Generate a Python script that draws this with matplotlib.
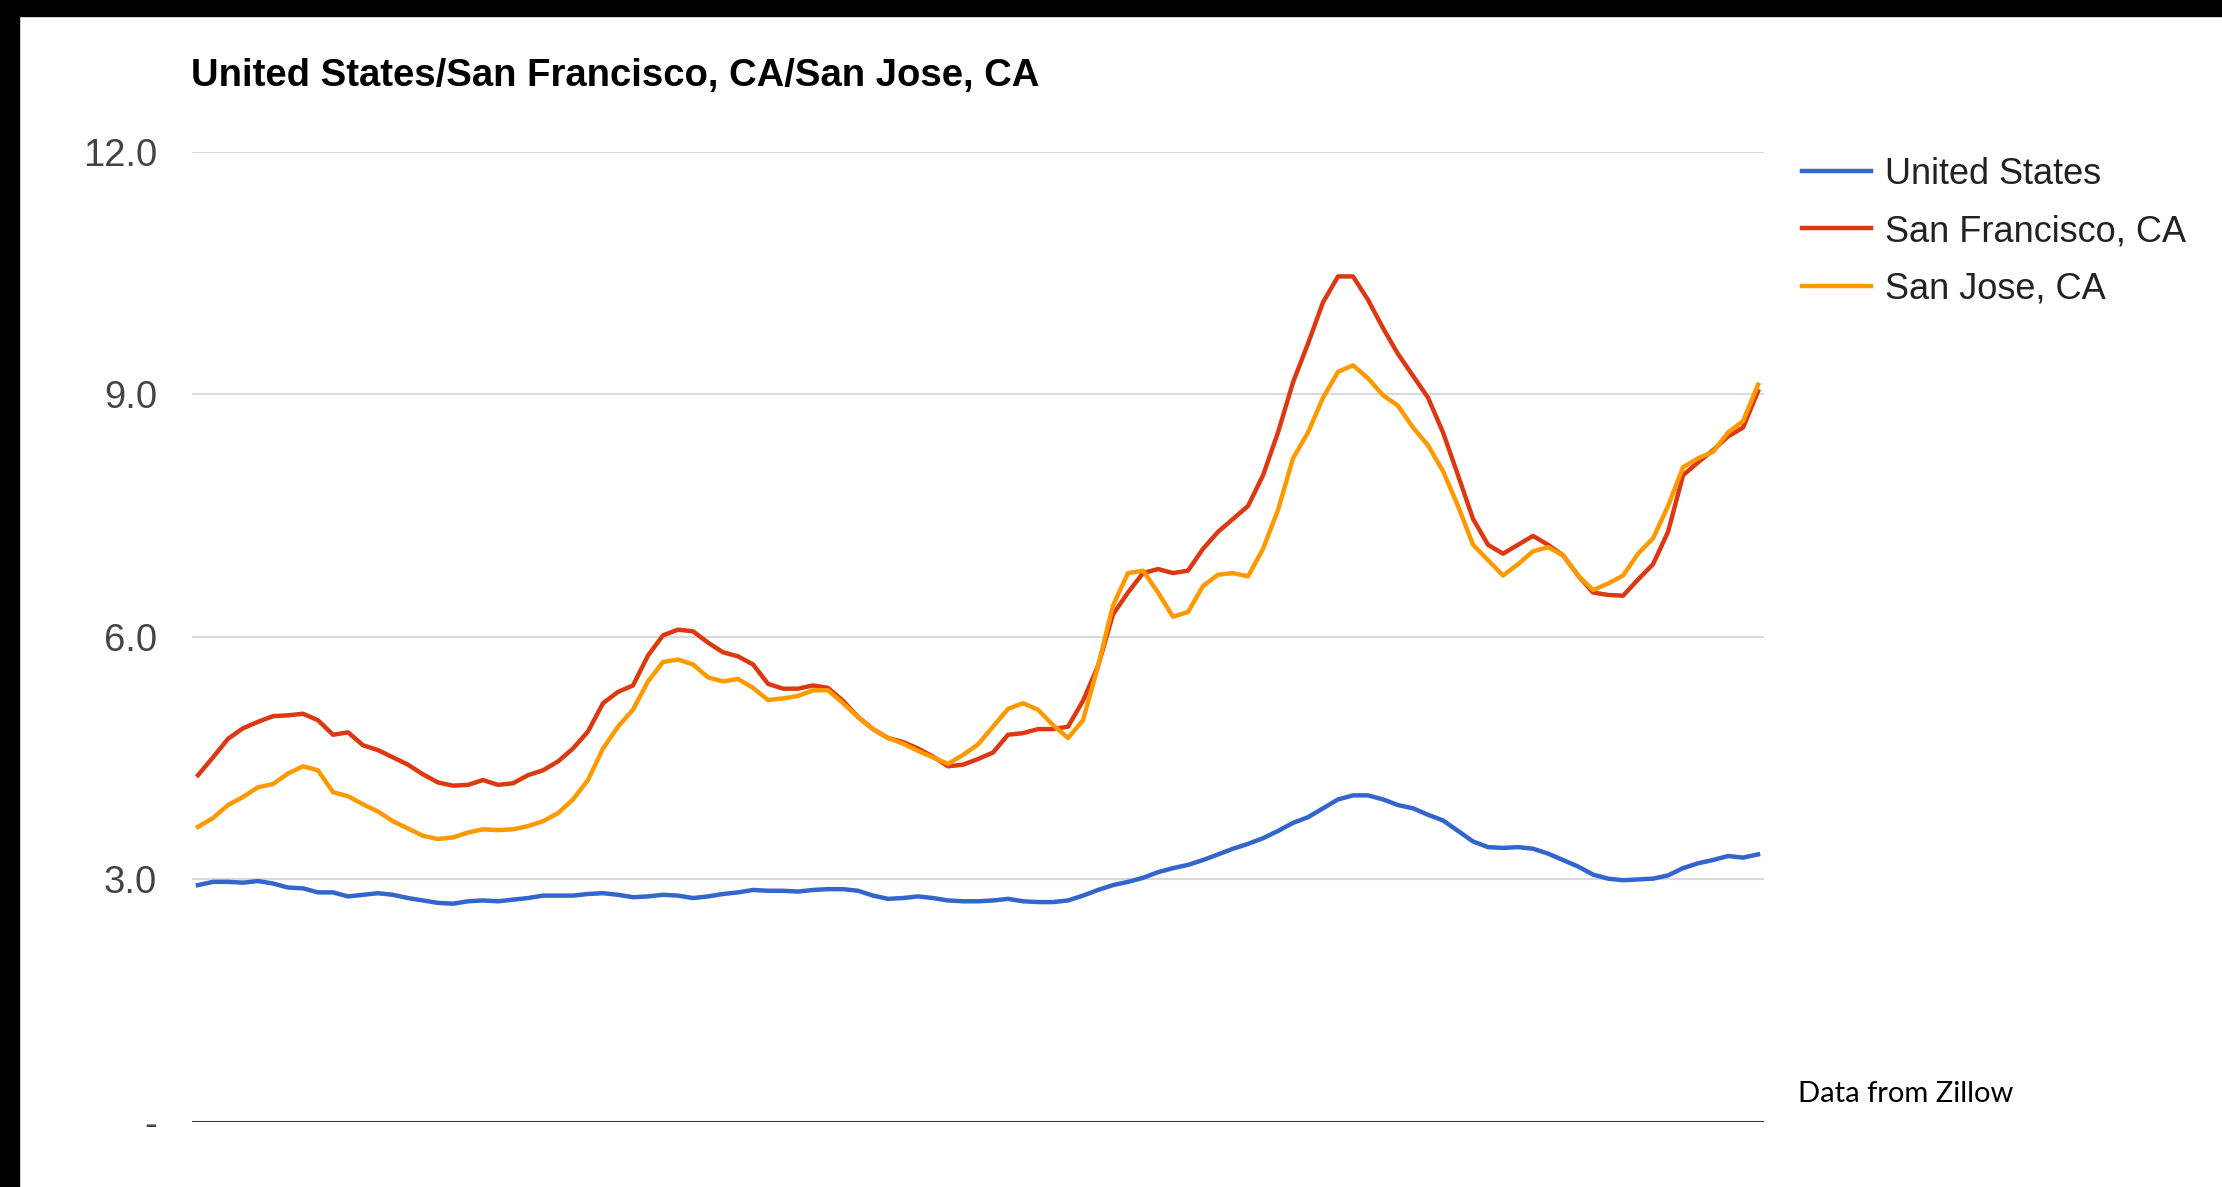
import matplotlib
matplotlib.use("Agg")
import matplotlib.pyplot as plt
from matplotlib.patches import Rectangle

plt.rcParams['font.family'] = ['Liberation Sans', 'DejaVu Sans']

# values, evenly spaced in time (no x labels in the original)
us = [2.93, 2.97, 2.97, 2.96, 2.98, 2.95, 2.90, 2.89, 2.84, 2.84, 2.79, 2.81, 2.83, 2.81,
      2.77, 2.74, 2.71, 2.70, 2.73, 2.74, 2.73, 2.75, 2.77, 2.80, 2.80, 2.80, 2.82, 2.83,
      2.81, 2.78, 2.79, 2.81, 2.80, 2.77, 2.79, 2.82, 2.84, 2.87, 2.86, 2.86, 2.85, 2.87,
      2.88, 2.88, 2.86, 2.80, 2.76, 2.77, 2.79, 2.77, 2.74, 2.73, 2.73, 2.74, 2.76,
      2.73, 2.72, 2.72, 2.74, 2.80, 2.87, 2.93, 2.97, 3.02, 3.09, 3.14, 3.18, 3.24, 3.31,
      3.38, 3.44, 3.51, 3.60, 3.70, 3.77, 3.88, 3.99, 4.04, 4.04, 3.99, 3.92, 3.88,
      3.80, 3.73, 3.60, 3.47, 3.40, 3.39, 3.40, 3.38, 3.32, 3.24, 3.16, 3.06, 3.01, 2.99,
      3.00, 3.01, 3.05, 3.14, 3.20, 3.24, 3.29, 3.27, 3.31]

sf = [4.29, 4.51, 4.74, 4.87, 4.95, 5.02, 5.03, 5.05, 4.97, 4.79, 4.82, 4.66, 4.60, 4.51,
      4.42, 4.30, 4.20, 4.16, 4.17, 4.23, 4.17, 4.19, 4.29, 4.35, 4.46, 4.62, 4.83, 5.18,
      5.32, 5.40, 5.77, 6.02, 6.09, 6.07, 5.93, 5.81, 5.76, 5.66, 5.42, 5.36, 5.36, 5.40,
      5.37, 5.21, 5.01, 4.86, 4.75, 4.70, 4.62, 4.52, 4.40, 4.42, 4.49, 4.57, 4.79,
      4.81, 4.86, 4.86, 4.89, 5.21, 5.64, 6.28, 6.55, 6.79, 6.84, 6.79, 6.82, 7.09, 7.30,
      7.46, 7.62, 8.00, 8.53, 9.15, 9.63, 10.14, 10.46, 10.46, 10.17, 9.82, 9.50, 9.23,
      8.96, 8.53, 8.00, 7.46, 7.14, 7.03, 7.14, 7.25, 7.14, 7.01, 6.76, 6.55, 6.52, 6.51,
      6.71, 6.90, 7.30, 8.00, 8.16, 8.31, 8.48, 8.59, 9.04]

sj = [3.65, 3.76, 3.92, 4.02, 4.14, 4.18, 4.31, 4.40, 4.35, 4.08, 4.03, 3.93, 3.84, 3.72,
      3.63, 3.54, 3.50, 3.52, 3.58, 3.62, 3.61, 3.62, 3.66, 3.72, 3.82, 3.99, 4.23, 4.62,
      4.89, 5.10, 5.45, 5.69, 5.72, 5.66, 5.50, 5.45, 5.48, 5.37, 5.22, 5.24, 5.27, 5.34,
      5.34, 5.18, 5.01, 4.86, 4.75, 4.68, 4.59, 4.51, 4.43, 4.54, 4.67, 4.89, 5.11,
      5.18, 5.10, 4.91, 4.75, 4.97, 5.64, 6.39, 6.79, 6.82, 6.55, 6.25, 6.31, 6.63, 6.77,
      6.79, 6.75, 7.09, 7.57, 8.21, 8.53, 8.96, 9.28, 9.36, 9.20, 8.99, 8.86, 8.59,
      8.37, 8.05, 7.62, 7.14, 6.95, 6.76, 6.90, 7.06, 7.11, 7.01, 6.76, 6.58, 6.66, 6.76,
      7.03, 7.22, 7.62, 8.10, 8.21, 8.29, 8.53, 8.67, 9.12]

names = ['United States', 'San Francisco, CA', 'San Jose, CA']
colors = ['#3366cc', '#dc3912', '#ff9900']
yticks = [0, 3, 6, 9, 12]
ylabels = ['-', '3.0', '6.0', '9.0', '12.0']
t = list(range(len(us)))

fig = plt.figure(figsize=(22.22, 11.87), dpi=100)
ax = fig.add_axes([0.0864, 0.0548, 0.7075, 0.8172])

for vals, name, c in zip([us, sf, sj], names, colors):
    ax.plot(t, vals, color=c, lw=3.2, label=name, solid_joinstyle='round')

ax.set_xlim(-0.4, len(us) - 1 + 0.4)
ax.set_ylim(0, 12)
ax.set_yticks(yticks)
ax.set_yticklabels(ylabels)
ax.set_xticks([])
ax.tick_params(axis='y', length=0, pad=25, labelsize=27.5, labelcolor='#444444')
for s in ax.spines.values():
    s.set_visible(False)
for y in yticks[1:]:
    ax.axhline(y, color='#d9d9d9', lw=1.5, zorder=0)
ax.axhline(0, color='#333333', lw=1.5, zorder=0)

fig.text(0.086, 0.936, 'United States/San Francisco, CA/San Jose, CA',
         fontsize=27.5, fontweight='bold', va='center', ha='left', color='black')

ax.legend(loc='upper left', bbox_to_anchor=(0.811, 0.868), bbox_transform=fig.transFigure,
          frameon=False, fontsize=26, handlelength=1.9, handletextpad=0.4,
          labelspacing=0.62, borderpad=0, borderaxespad=0, labelcolor='#222222')

fig.text(0.809, 0.078, 'Data from Zillow', fontsize=21, family=['Lato', 'DejaVu Sans'],
         va='center', ha='left', color='black')

# black frame strips at top and left of the screenshot
fig.patches.append(Rectangle((0, 1 - 16 / 1187), 1, 16 / 1187, transform=fig.transFigure,
                             color='black', zorder=10))
fig.patches.append(Rectangle((0, 0), 19 / 2222, 1, transform=fig.transFigure,
                             color='black', zorder=10))

fig.savefig('out.png', dpi=100)
